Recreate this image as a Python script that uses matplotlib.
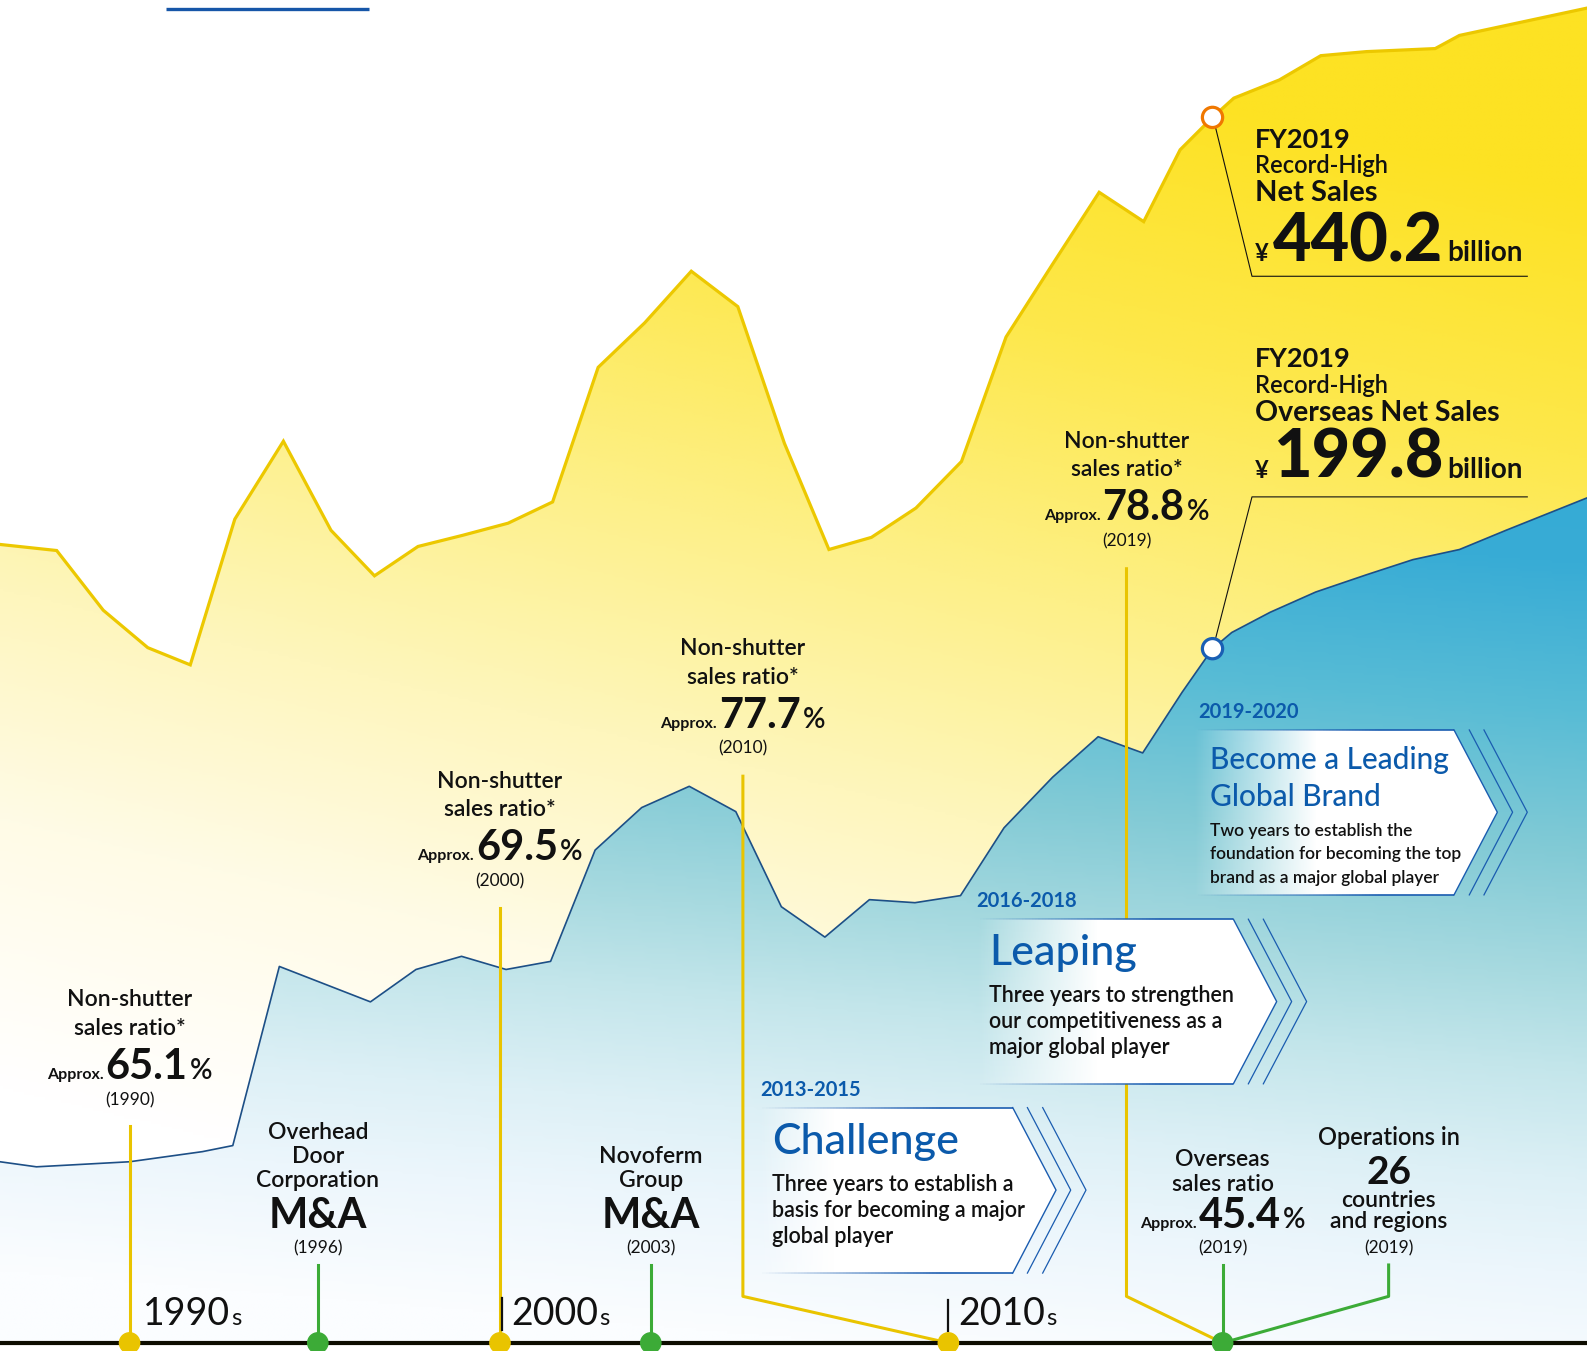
import matplotlib
matplotlib.use('Agg')
import matplotlib.pyplot as plt
import numpy as np
from matplotlib.colors import LinearSegmentedColormap, to_rgb
from matplotlib.patches import Polygon, Circle
from matplotlib.collections import LineCollection

# chart heights (baseline of the timeline = 8)
sales_x = [0, 56, 102, 146, 188, 232, 280, 327, 370, 413, 457, 502, 546, 591, 637,
           683, 729, 775, 819, 861, 905, 950, 994, 1040, 1086, 1130, 1166, 1198, 1219,
           1264, 1305, 1350, 1418, 1442, 1568]
sales_h = [797, 791, 732, 695, 678, 822, 899, 811, 766, 795, 806, 818, 839, 972, 1016,
           1067, 1032, 897, 792, 804, 833, 879, 1002, 1074, 1145, 1116, 1187, 1219, 1238,
           1256, 1280, 1284, 1287, 1300, 1327]
overseas_x = [0, 36, 128, 200, 230, 276, 366, 411, 456, 500, 544, 588, 634, 681, 727,
              772, 815, 859, 904, 949, 992, 1040, 1085, 1129, 1168, 1198, 1217, 1255,
              1300, 1350, 1396, 1442, 1488, 1568]
overseas_h = [187, 182, 187, 197, 203, 380, 345, 377, 390, 377, 385, 495, 537, 558, 533,
              439, 409, 446, 443, 450, 517, 567, 607, 591, 651, 694, 710, 730, 750, 767,
              782, 792, 811, 843]

ratio_values = ['65.1', '69.5', '77.7', '78.8']
ratio_years = ['(1990)', '(2000)', '(2010)', '(2019)']
ma_names = [['Overhead', 'Door', 'Corporation'], ['Novoferm', 'Group']]
ma_years = ['(1996)', '(2003)']
decades = ['1990', '2000', '2010']
phase_periods = ['2013-2015', '2016-2018', '2019-2020']
phase_titles = [['Challenge'], ['Leaping'], ['Become a Leading', 'Global Brand']]
phase_bodies = [['Three years to establish a', 'basis for becoming a major', 'global player'],
                ['Three years to strengthen', 'our competitiveness as a', 'major global player'],
                ['Two years to establish the', 'foundation for becoming the top',
                 'brand as a major global player']]
record_sales = '440.2'
record_overseas = '199.8'
overseas_ratio = '45.4'
countries = '26'

# ---- style ----
W, H, BASE = 1568, 1335, 8
INK = '#111111'
BLUE_TXT = '#0b5aab'
LINE_BLUE = '#1a5cb0'
YEL = '#e9c400'
GREEN = '#3cab37'
FONT = ['Lato', 'DejaVu Sans']
plt.rcParams['font.family'] = FONT

fig = plt.figure(figsize=(15.87, 13.51), dpi=100)
ax = fig.add_axes([0, 0, 1, 1])
ax.axis('off')
renderer = fig.canvas.get_renderer()
PX = W / fig.bbox.width


def Y(py):
    return H - py


def gradient_area(x, h, stops, z, tilt=0.0):
    poly = ax.fill_between(x, h, BASE, color='none', lw=0)
    cmap = LinearSegmentedColormap.from_list('g', stops)
    yy = np.linspace(0, 1, 500)[:, None]
    xx = np.linspace(0, 1, 300)[None, :]
    t = np.clip(yy - tilt * (xx - 0.5), 0, 1)
    im = ax.imshow(t, cmap=cmap, vmin=0, vmax=1, extent=[0, W, BASE, H],
                   origin='upper', aspect='auto', zorder=z, interpolation='bilinear')
    im.set_clip_path(poly.get_paths()[0], transform=ax.transData)


def line(s, x, py, size, weight='semibold', color=INK, ha='center', z=9):
    ax.text(x, Y(py), s, fontsize=size, fontweight=weight, color=color, ha=ha,
            va='center', zorder=z)


def row(pieces, x, py, align='center', gap=3, z=9):
    ts = []
    for s, size, weight in pieces:
        ts.append(ax.text(0, Y(py), s, fontsize=size, fontweight=weight, color=INK,
                          ha='left', va='baseline', zorder=z))
    ws = [t.get_window_extent(renderer).width * PX for t in ts]
    cur = x - (sum(ws) + gap * (len(ts) - 1)) / 2 if align == 'center' else x
    for t, w in zip(ts, ws):
        t.set_x(cur)
        cur += w + gap


def chevron_box(left, top, bottom, corner, tip, tipy, offsets, fade=0.4):
    verts = [(left, Y(top)), (corner, Y(top)), (tip, Y(tipy)), (corner, Y(bottom)), (left, Y(bottom))]
    poly = Polygon(verts, closed=True, fc='none', ec='none')
    ax.add_patch(poly)
    img = np.ones((2, 300, 4))
    img[..., 3] = np.clip(np.linspace(0, 1, 300) / fade, 0, 1)
    im = ax.imshow(img, extent=[left, tip, Y(bottom), Y(top)], aspect='auto', zorder=5)
    im.set_clip_path(poly)
    ax.plot([corner, tip, corner], [Y(top), Y(tipy), Y(bottom)], color=LINE_BLUE, lw=1.0, zorder=6)
    r, g, b = to_rgb(LINE_BLUE)
    xs = np.linspace(left, corner, 80)
    alphas = np.clip(np.linspace(0, 1.4, 79), 0, 1)
    for py in (top, bottom):
        segs = [[(xs[i], Y(py)), (xs[i + 1], Y(py))] for i in range(79)]
        ax.add_collection(LineCollection(segs, colors=[(r, g, b, a) for a in alphas], lw=1.2, zorder=6))
    for dx in offsets:
        ax.plot([corner + dx, tip + dx, corner + dx], [Y(top), Y(tipy), Y(bottom)],
                color=LINE_BLUE, lw=0.9, zorder=6)


# ---- areas ----
gradient_area(sales_x, sales_h,
              [(0, '#fde223'), (0.2, '#fde84c'), (0.4, '#fdf088'), (0.58, '#fef6bd'),
               (0.75, '#fffbe6'), (0.95, '#ffffff'), (1.0, '#ffffff')], z=1, tilt=0.28)
gradient_area(overseas_x, overseas_h,
              [(0, '#2aa3d5'), (0.37, '#38acd6'), (0.48, '#58bcd5'), (0.59, '#84cbd6'),
               (0.68, '#a8dae0'), (0.75, '#c4e6eb'), (0.83, '#ddf0f6'), (0.9, '#ecf6fc'),
               (1.0, '#fbfdff')], z=2, tilt=0.1)
ax.plot(sales_x, sales_h, color='#ecc800', lw=2.3, zorder=3, solid_joinstyle='miter')
ax.plot(overseas_x, overseas_h, color='#1d4f86', lw=1.2, zorder=3)

# top-left accent
ax.plot([164, 365], [Y(9), Y(9)], color='#1656a8', lw=2.4, zorder=3, solid_capstyle='butt')

# ---- connectors ----
ratio_cx = [128, 494, 734, 1113]
ratio_top = [988, 772, 641, 436]
decade_x = [128, 494, 937]
ax.plot([128, 128], [Y(1113), Y(1327)], color=YEL, lw=2.2, zorder=4)
ax.plot([494, 494], [Y(897), Y(1327)], color=YEL, lw=2.2, zorder=4)
ax.plot([734, 734, 937], [Y(767), Y(1281), Y(1327)], color=YEL, lw=2.2, zorder=4)
ax.plot([1113, 1113, 1208], [Y(562), Y(1281), Y(1327)], color=YEL, lw=2.2, zorder=4)
for gx in (314, 643, 1208):
    ax.plot([gx, gx], [Y(1250), Y(1327)], color=GREEN, lw=2.2, zorder=4)
ax.plot([1372, 1372, 1208], [Y(1250), Y(1281), Y(1327)], color=GREEN, lw=2.2, zorder=4)

# ---- phase boxes ----
chevron_box(750, 1094.5, 1258, 1000.6, 1043.4, 1176, (14.5, 29.6), fade=0.25)
chevron_box(965, 908.3, 1071, 1218.6, 1261.4, 989.7, (14.8, 29.6), fade=0.4)
chevron_box(1180, 721.3, 884.3, 1436.6, 1479.4, 802.6, (15.1, 29.6), fade=0.4)

phase_left = [751, 965, 1184]
phase_py = [1077, 890, 704]
title_py = [[1128], [942], [751, 788]]
body_py = [[1170, 1196, 1222], [984, 1009, 1035], [821, 844, 868]]
for i in range(3):
    line(phase_periods[i], phase_left[i], phase_py[i], 14.5, 'bold', BLUE_TXT, ha='left')
    tsize = 21.5 if i == 2 else 31
    bsize = 12.5 if i == 2 else 15.5
    for s, py in zip(phase_titles[i], title_py[i]):
        line(s, phase_left[i] + 12, py, tsize, 'medium', BLUE_TXT, ha='left')
    for s, py in zip(phase_bodies[i], body_py[i]):
        line(s, phase_left[i] + 12, py, bsize, 'semibold', INK, ha='left')

# ---- timeline ----
ax.plot([0, W], [Y(1327), Y(1327)], color='#0d0d00', lw=3, zorder=7, solid_capstyle='butt')
for dx in decade_x:
    ax.add_patch(Circle((dx, Y(1327)), 10, color=YEL, zorder=8))
for gx in (314, 643, 1208):
    ax.add_patch(Circle((gx, Y(1327)), 10, color=GREEN, zorder=8))
ax.plot([496, 496], [Y(1283), Y(1314)], color=INK, lw=1.6, zorder=4)
ax.plot([937, 937], [Y(1285), Y(1315)], color=INK, lw=1.6, zorder=7)
for s, x0 in zip(decades, (141, 505, 947)):
    row([(s, 27, 'normal'), ('s', 17, 'normal')], x0, 1309, align='left', gap=1)

# ---- non-shutter ratio blocks ----
for cx, top, v, yr in zip(ratio_cx, ratio_top, ratio_values, ratio_years):
    line('Non-shutter', cx, top, 16.5)
    line('sales ratio*', cx, top + 28, 16.5)
    row([('Approx.', 11.5, 'bold'), (v, 30, 'bold'), ('%', 20, 'semibold')], cx, top + 78, gap=2)
    line(yr, cx, top + 99, 12.5, 'normal')

# ---- M&A blocks ----
for cx, names, yr in zip((314, 643), ma_names, ma_years):
    for k, s in enumerate(reversed(names)):
        line(s, cx, 1167 - 24 * k, 16.5)
    line('M&A', cx, 1202, 30, 'bold')
    line(yr, cx, 1234, 12.5, 'normal')

# overseas ratio / operations
line('Overseas', 1208, 1146, 16.5)
line('sales ratio', 1208, 1170, 16.5)
row([('Approx.', 11.5, 'bold'), (overseas_ratio, 30, 'bold'), ('%', 20, 'semibold')], 1208, 1213, gap=2)
line('(2019)', 1208, 1234, 12.5, 'normal')
line('Operations in', 1372, 1124, 17)
row([(countries, 28, 'bold')], 1372, 1170)
line('countries', 1372, 1186, 16.5)
line('and regions', 1372, 1207, 16.5)
line('(2019)', 1372, 1234, 12.5, 'normal')

# ---- FY2019 record highs ----
ax.add_patch(Circle((1198, Y(116)), 10, fc='white', ec='#f07800', lw=2.3, zorder=8))
ax.add_patch(Circle((1198, Y(641)), 10, fc='white', ec='#1a5fb4', lw=2.3, zorder=8))
ax.plot([1201, 1237, 1509], [Y(126), Y(273), Y(273)], color=INK, lw=0.8, zorder=7)
ax.plot([1201, 1237, 1509], [Y(631), Y(491), Y(491)], color=INK, lw=0.8, zorder=7)

line('FY2019', 1240, 138, 19.5, 'bold', ha='left')
line('Record-High', 1240, 164, 17, 'semibold', ha='left')
line('Net Sales', 1240, 191, 21, 'bold', ha='left')
row([('¥', 17, 'bold'), (record_sales, 48, 'black'), ('billion', 20, 'bold')], 1240, 258,
    align='left', gap=4)
line('FY2019', 1240, 355, 19.5, 'bold', ha='left')
line('Record-High', 1240, 381, 17, 'semibold', ha='left')
line('Overseas Net Sales', 1240, 408, 20.5, 'bold', ha='left')
row([('¥', 17, 'bold'), (record_overseas, 48, 'black'), ('billion', 20, 'bold')], 1240, 472,
    align='left', gap=4)

ax.set_xlim(0, W)
ax.set_ylim(0, H)
fig.savefig('out.png', dpi=100, facecolor='white')
